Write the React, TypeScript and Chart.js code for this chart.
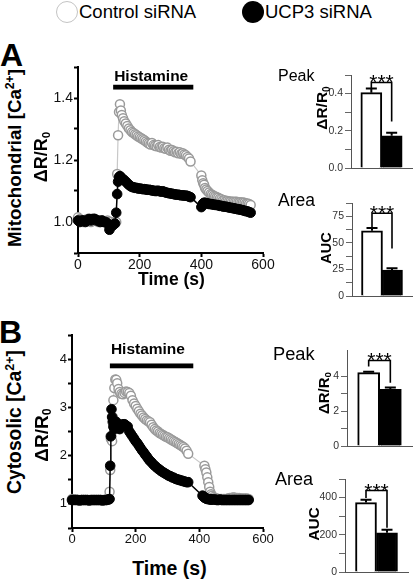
import React, { useEffect, useRef } from 'react';
import { Chart, registerables } from 'chart.js';

Chart.register(...registerables);

const FONT = '"Liberation Sans", Arial, Helvetica, sans-serif';

// ---------------- data ----------------
const groups = ['Control siRNA', 'UCP3 siRNA'];

// Panel A: mitochondrial Ca2+ (ΔR/R0) vs time (s)
const timeA = [0, 6, 12, 18, 24, 30, 36, 42, 48, 54, 60, 66, 72, 78, 84, 90, 96, 102, 108, 114, 120,
  124, 127, 130, 133, 136, 139, 142, 146, 150,
  155, 160, 165, 170, 175, 180, 185, 190, 195, 200, 205, 210, 215, 220, 225, 230, 235, 240, 245, 250,
  255, 260, 265, 270, 275, 280, 285, 290, 295, 300, 305, 310, 315, 320, 325, 330, 335, 340, 345, 350,
  355, 360, 365,
  400, 403, 406, 409, 412, 416, 420,
  425, 430, 435, 440, 445, 450, 455, 460, 465, 470, 475, 480, 485, 490, 495, 500, 505, 510, 515, 520,
  525, 530, 535, 540, 545, 550, 555, 560];
const controlA = [1.015, 1.01, 1.005, 1.0, 1.005, 1.01, 1.005, 1.0, 1.005, 1.01, 1.005, 1.0, 1.0, 1.005, 1.0, 1.0, 1.005, 1.0, 1.0, 0.995, 1.0,
  1.0, 1.155, 1.28, 1.355, 1.38, 1.36, 1.345, 1.335, 1.325,
  1.318, 1.31, 1.302, 1.296, 1.29, 1.287, 1.283, 1.28, 1.276, 1.273, 1.27, 1.267, 1.264, 1.26, 1.256, 1.253, 1.25, 1.255, 1.248, 1.246,
  1.244, 1.248, 1.242, 1.24, 1.243, 1.238, 1.236, 1.24, 1.233, 1.23, 1.232, 1.228, 1.225, 1.227, 1.222, 1.225, 1.22, 1.222, 1.218, 1.215,
  1.21, 1.205, 1.195,
  1.15, 1.135, 1.125, 1.12, 1.11, 1.105, 1.1,
  1.095, 1.09, 1.088, 1.085, 1.082, 1.08, 1.078, 1.075, 1.073, 1.07, 1.07, 1.068, 1.068, 1.066, 1.066, 1.065, 1.065, 1.065, 1.065, 1.064,
  1.064, 1.063, 1.063, 1.062, 1.06, 1.06, 1.058, 1.055];
const ucp3A = [1.005, 1.0, 1.005, 1.005, 1.0, 1.005, 1.01, 1.005, 1.01, 1.01, 1.005, 1.005, 1.0, 1.005, 1.0, 1.0, 0.995, 0.975, 0.985, 0.99, 0.995,
  1.03, 1.09, 1.13, 1.145, 1.148, 1.145, 1.14, 1.138, 1.135,
  1.13, 1.125, 1.12, 1.116, 1.113, 1.112, 1.11, 1.11, 1.108, 1.108, 1.107, 1.106, 1.106, 1.105, 1.104, 1.104, 1.103, 1.102, 1.101, 1.1,
  1.1, 1.101, 1.099, 1.098, 1.099, 1.097, 1.095, 1.094, 1.093, 1.092, 1.091, 1.09, 1.089, 1.088, 1.088, 1.087, 1.086, 1.086, 1.085, 1.085,
  1.084, 1.082, 1.08,
  1.048, 1.055, 1.06, 1.062, 1.062, 1.06, 1.06,
  1.058, 1.058, 1.057, 1.056, 1.055, 1.055, 1.054, 1.052, 1.052, 1.05, 1.05, 1.049, 1.048, 1.047, 1.046, 1.045, 1.044, 1.043, 1.042, 1.041,
  1.04, 1.039, 1.038, 1.036, 1.035, 1.034, 1.032, 1.03];
const histamineA = [114, 374];
const histamineLevelA = 1.435;

// Panel B: cytosolic Ca2+ (ΔR/R0) vs time (s)
const timeB = [0, 6, 12, 18, 24, 30, 36, 42, 48, 54, 60, 66, 72, 78, 84, 90, 96, 102, 108, 114,
  118, 120, 122, 124, 126, 128, 130, 133, 136, 139, 142, 146, 150, 155, 160, 165, 170,
  175, 180, 185, 190, 195, 200, 205, 210, 215, 220, 225, 230, 235, 240, 245, 250, 255, 260, 265, 270,
  275, 280, 285, 290, 295, 300, 305, 310, 315, 320, 325, 330, 335, 340, 345, 350, 355, 360, 365,
  410, 413, 416, 419, 422, 425, 428, 431, 434, 437, 440, 445, 450,
  455, 460, 465, 470, 475, 480, 485, 490, 495, 500, 505, 510, 515, 520, 525, 530, 535, 540, 545, 550, 555];
const controlB = [1.1, 1.09, 1.09, 1.08, 1.08, 1.08, 1.08, 1.08, 1.08, 1.08, 1.08, 1.08, 1.08, 1.08, 1.08, 1.08, 1.08, 1.08, 1.08, 1.09,
  1.25, 1.7, 2.35, 2.4, 2.3, 2.8, 3.15, 3.4, 3.58, 3.57, 3.5, 3.38, 3.32, 3.28, 3.27, 3.3, 3.33,
  3.32, 3.3, 3.24, 3.15, 3.08, 3.03, 2.97, 2.92, 2.87, 2.83, 2.79, 2.76, 2.73, 2.71, 2.69, 2.64, 2.59, 2.55, 2.52, 2.5,
  2.47, 2.45, 2.43, 2.41, 2.39, 2.38, 2.36, 2.34, 2.32, 2.3, 2.28, 2.26, 2.24, 2.22, 2.2, 2.18, 2.15, 2.1, 2.04,
  null, null, 1.79, 1.72, 1.65, 1.55, 1.45, 1.35, 1.25, 1.2, 1.17, 1.14, 1.12,
  1.11, 1.1, 1.1, 1.1, 1.1, 1.1, 1.1, 1.11, 1.12, 1.12, 1.13, 1.13, 1.12, 1.12, 1.12, 1.11, 1.11, 1.11, 1.11, 1.11, 1.1];
const ucp3B = [1.08, 1.08, 1.08, 1.08, 1.07, 1.08, 1.08, 1.08, 1.08, 1.07, 1.08, 1.08, 1.08, 1.08, 1.08, 1.08, 1.07, 1.08, 1.08, 1.09,
  1.1, 1.79, 2.4, 2.96, 2.8, 2.7, 2.6, 2.55, 2.6, 2.7, 2.62, 2.57, 2.55, 2.6, 2.65, 2.65, 2.62,
  2.6, 2.5, 2.45, 2.4, 2.35, 2.3, 2.26, 2.21, 2.16, 2.11, 2.07, 2.02, 1.98, 1.93, 1.89, 1.86, 1.82, 1.79, 1.76, 1.73,
  1.71, 1.68, 1.66, 1.64, 1.62, 1.6, 1.58, 1.57, 1.55, 1.54, 1.52, 1.51, 1.5, 1.49, 1.48, 1.47, 1.46, 1.45, 1.45,
  1.17, 1.15, 1.13, 1.12, 1.11, 1.1, 1.1, 1.1, 1.09, 1.09, 1.09, 1.09, 1.09,
  1.08, 1.08, 1.09, 1.08, 1.08, 1.08, 1.08, 1.08, 1.08, 1.08, 1.08, 1.08, 1.08, 1.08, 1.08, 1.08, 1.08, 1.08, 1.08, 1.08, 1.08];
const histamineB = [119, 381];
const histamineLevelB = 3.86;

// Bar summaries: [control, UCP3] mean and SEM; bracket = [level, left leg end, right leg end]
const peakA = [0.405, 0.173];
const peakASem = [0.022, 0.017];
const peakABracket = [0.46, 0.43, 0.25];
const areaA = [61.3, 24.5];
const areaASem = [2.7, 1.5];
const areaABracket = [77.8, 65, 44.6];
const peakB = [4.2, 3.25];
const peakBSem = [0.05, 0.1];
const peakBBracket = [4.9, 4.55, 3.62];
const areaB = [373, 211];
const areaBSem = [16, 16];
const areaBBracket = [438, 398, 238];

// Tick labels
const timeTicks = [0, 200, 400, 600];
const yTicksA = [1.0, 1.2, 1.4];
const yTicksB = [1, 2, 3, 4];
const peakATicks = [0, 0.2, 0.4];
const areaATicks = [0, 25, 50, 75];
const peakBTicks = [0, 2, 4];
const areaBTicks = [0, 200, 400];

// ---------------- helpers ----------------
type Geom = { left: number; top: number; width: number; height: number; yw: number; xh: number; pt: number; pr: number };

const gLineA: Geom = { left: 40, top: 55, width: 240, height: 222, yw: 38, xh: 24, pt: 12, pr: 17 };
const gLineB: Geom = { left: 34, top: 322, width: 246, height: 232, yw: 38, xh: 26, pt: 13, pr: 17 };
const gPeakA: Geom = { left: 325, top: 65, width: 89, height: 115, yw: 26, xh: 12, pt: 10, pr: 2 };
const gAreaA: Geom = { left: 325, top: 193, width: 89, height: 115, yw: 27, xh: 12, pt: 10, pr: 2 };
const gPeakB: Geom = { left: 320, top: 340, width: 94, height: 118, yw: 27, xh: 12, pt: 10, pr: 2 };
const gAreaB: Geom = { left: 318, top: 469, width: 96, height: 113, yw: 27, xh: 10, pt: 10, pr: 6 };

const stepFilter = (step: number) => (scale: any) => {
  scale.ticks = scale.ticks.filter((t: any) => Math.abs(t.value / step - Math.round(t.value / step)) < 1e-6);
};
const labelCb = (labels: number[], dec: number) => (v: any) => {
  const n = Number(v);
  return labels.some((l) => Math.abs(l - n) < 1e-6) ? n.toFixed(dec) : '';
};

const histPlugin = (range: number[], level: number, gap: number, size: number) => ({
  id: 'histamine',
  afterDatasetsDraw(chart: any) {
    const { ctx, scales } = chart;
    const x0 = scales.x.getPixelForValue(range[0]);
    const x1 = scales.x.getPixelForValue(range[1]);
    const yc = scales.y.getPixelForValue(level);
    ctx.save();
    ctx.fillStyle = '#000';
    ctx.fillRect(x0, yc - 2.4, x1 - x0, 4.8);
    ctx.font = `bold ${size}px ${FONT}`;
    ctx.textAlign = 'left';
    ctx.textBaseline = 'alphabetic';
    ctx.fillText('Histamine', x0 + 1, yc - 2.4 - gap);
    ctx.restore();
  },
});

const sigPlugin = (values: number[], sem: number[], bracket: number[]) => ({
  id: 'sig',
  afterDatasetsDraw(chart: any) {
    const { ctx, scales } = chart;
    const x = scales.x, y = scales.y;
    ctx.save();
    ctx.strokeStyle = '#000';
    ctx.lineWidth = 2;
    values.forEach((v, i) => {
      const px = x.getPixelForValue(i + 1);
      const top = y.getPixelForValue(v + sem[i]);
      const base = y.getPixelForValue(v);
      ctx.beginPath();
      ctx.moveTo(px, base);
      ctx.lineTo(px, top);
      ctx.moveTo(px - 5.5, top);
      ctx.lineTo(px + 5.5, top);
      ctx.stroke();
    });
    const x1 = x.getPixelForValue(1), x2 = x.getPixelForValue(2);
    const yb = y.getPixelForValue(bracket[0]);
    ctx.lineWidth = 1.6;
    ctx.beginPath();
    ctx.moveTo(x1, y.getPixelForValue(bracket[1]));
    ctx.lineTo(x1, yb);
    ctx.lineTo(x2, yb);
    ctx.lineTo(x2, y.getPixelForValue(bracket[2]));
    ctx.stroke();
    ctx.fillStyle = '#000';
    ctx.font = `21px ${FONT}`;
    ctx.textAlign = 'center';
    ctx.textBaseline = 'alphabetic';
    ctx.fillText('***', (x1 + x2) / 2, yb + 7);
    ctx.restore();
  },
});

function lineConfig(g: Geom, time: number[], ctrl: (number | null)[], ucp: (number | null)[], hist: number[], histLevel: number,
  gap: number, yMin: number, yMax: number, yStep: number, yLabels: number[], dec: number, tickSize: number): any {
  const pts = (vals: (number | null)[]) => time.map((t, i) => ({ x: t, y: vals[i] }));
  const grid = { drawOnChartArea: false, drawTicks: true, tickLength: 4, tickWidth: 2, tickColor: '#000' };
  const border = { display: true, color: '#000', width: 2 };
  return {
    type: 'line',
    data: {
      datasets: [
        { label: groups[1], data: pts(ucp), borderColor: '#000', borderWidth: 1.5, pointRadius: 4.8, pointBackgroundColor: '#000',
          pointBorderColor: '#000', pointBorderWidth: 1, tension: 0, spanGaps: true, clip: false, order: 0 },
        { label: groups[0], data: pts(ctrl), borderColor: '#c8c8c8', borderWidth: 1.2, pointRadius: 4.5, pointBackgroundColor: '#fff',
          pointBorderColor: '#9a9a9a', pointBorderWidth: 1.5, tension: 0, spanGaps: true, clip: false, order: 1 },
      ],
    },
    options: {
      responsive: false, animation: false, events: [],
      layout: { padding: { left: 0, top: g.pt, right: g.pr, bottom: 0 } },
      plugins: { legend: { display: false }, tooltip: { enabled: false } },
      scales: {
        x: {
          type: 'linear', min: 0, max: 600,
          afterFit: (s: any) => { s.height = g.xh; },
          afterBuildTicks: stepFilter(200),
          ticks: { stepSize: 200, color: '#111', font: { family: FONT, size: tickSize }, padding: 0, maxRotation: 0, autoSkip: false,
            callback: labelCb(timeTicks, 0) },
          grid, border,
        },
        y: {
          type: 'linear', min: yMin, max: yMax,
          afterFit: (s: any) => { s.width = g.yw; },
          afterBuildTicks: stepFilter(yStep),
          ticks: { stepSize: yStep, color: '#111', font: { family: FONT, size: tickSize }, padding: 1, autoSkip: false,
            callback: labelCb(yLabels, dec) },
          grid, border,
        },
      },
    },
    plugins: [histPlugin(hist, histLevel, gap, 15.5)],
  };
}

function barConfig(g: Geom, values: number[], sem: number[], bracket: number[], yMax: number, yStep: number,
  yLabels: number[], dec: number, thickness: number): any {
  return {
    type: 'bar',
    data: {
      datasets: [{
        label: 'mean', data: values.map((v, i) => ({ x: i + 1, y: v })),
        backgroundColor: ['#fff', '#000'], borderColor: '#000', borderWidth: 2, barThickness: thickness, borderSkipped: 'start',
      }],
    },
    options: {
      responsive: false, animation: false, events: [],
      layout: { padding: { left: 0, top: g.pt, right: g.pr, bottom: 0 } },
      plugins: { legend: { display: false }, tooltip: { enabled: false } },
      scales: {
        x: {
          type: 'linear', min: 0, max: 3, offset: false,
          afterFit: (s: any) => { s.height = g.xh; },
          ticks: { display: false },
          grid: { display: false },
          border: { display: true, color: '#555', width: 1 },
        },
        y: {
          type: 'linear', min: 0, max: yMax,
          afterFit: (s: any) => { s.width = g.yw; },
          afterBuildTicks: stepFilter(yStep),
          ticks: { stepSize: yStep, color: '#333', font: { family: FONT, size: 10.5 }, padding: 2, autoSkip: false,
            callback: labelCb(yLabels, dec) },
          grid: { drawOnChartArea: false, drawTicks: true, tickLength: 6, tickWidth: 1, tickColor: '#666' },
          border: { display: true, color: '#555', width: 1 },
        },
      },
    },
    plugins: [sigPlugin(values, sem, bracket)],
  };
}

// ---------------- text helpers ----------------
const Txt = ({ x, base, size, bold, center, children }: any) => (
  <div style={{
    position: 'absolute', left: x, top: base - 0.8465 * size, fontSize: size, lineHeight: `${size}px`,
    fontWeight: bold ? 'bold' : 'normal', whiteSpace: 'nowrap', color: '#000',
    transform: center ? 'translateX(-50%)' : undefined,
  }}>{children}</div>
);

const Rot = ({ cx, cy, size, children }: any) => (
  <div style={{
    position: 'absolute', left: cx, top: cy, fontSize: size, lineHeight: `${size}px`, fontWeight: 'bold',
    whiteSpace: 'nowrap', color: '#000', transform: 'translate(-50%, -50%) rotate(-90deg)',
  }}>{children}</div>
);

const Sup = ({ children }: any) => <span style={{ fontSize: '0.65em', lineHeight: 0, verticalAlign: '0.55em' }}>{children}</span>;
const Sub = ({ children }: any) => <span style={{ fontSize: '0.65em', lineHeight: 0, verticalAlign: '-0.25em' }}>{children}</span>;
const DR = () => <>ΔR/R<Sub>0</Sub></>;

export default function App() {
  const r0 = useRef<HTMLCanvasElement>(null);
  const r1 = useRef<HTMLCanvasElement>(null);
  const r2 = useRef<HTMLCanvasElement>(null);
  const r3 = useRef<HTMLCanvasElement>(null);
  const r4 = useRef<HTMLCanvasElement>(null);
  const r5 = useRef<HTMLCanvasElement>(null);
  const refs = [r0, r1, r2, r3, r4, r5];
  const geoms = [gLineA, gLineB, gPeakA, gAreaA, gPeakB, gAreaB];

  useEffect(() => {
    document.body.style.margin = '0';
    Chart.defaults.font.family = FONT;
    const configs = [
      lineConfig(gLineA, timeA, controlA, ucp3A, histamineA, histamineLevelA, 3.3, 0.9, 1.5, 0.1, yTicksA, 1, 14),
      lineConfig(gLineB, timeB, controlB, ucp3B, histamineB, histamineLevelB, 9.3, 0.5, 4.5, 0.5, yTicksB, 0, 13),
      barConfig(gPeakA, peakA, peakASem, peakABracket, 0.5, 0.1, peakATicks, 1, 21),
      barConfig(gAreaA, areaA, areaASem, areaABracket, 87.5, 12.5, areaATicks, 0, 21),
      barConfig(gPeakB, peakB, peakBSem, peakBBracket, 5.5, 1, peakBTicks, 0, 22),
      barConfig(gAreaB, areaB, areaBSem, areaBBracket, 500, 100, areaBTicks, 0, 21),
    ];
    const charts = configs.map((c, i) => new Chart(refs[i].current as HTMLCanvasElement, c));
    return () => charts.forEach((c) => c.destroy());
  }, []);

  return (
    <div style={{ position: 'absolute', left: 0, top: 0, width: 414, height: 582, background: '#fff', overflow: 'hidden', fontFamily: FONT }}>
      {geoms.map((g, i) => (
        <canvas key={i} ref={refs[i]} width={g.width} height={g.height}
          style={{ position: 'absolute', left: g.left, top: g.top, width: g.width, height: g.height }} />
      ))}

      {/* legend */}
      <div style={{ position: 'absolute', left: 56, top: 1, width: 22, height: 22, borderRadius: '50%', border: '1.6px solid #c4c4c4', boxSizing: 'border-box' }} />
      <Txt x={79} base={19} size={18.5}>{groups[0]}</Txt>
      <div style={{ position: 'absolute', left: 242, top: 1, width: 22, height: 22, borderRadius: '50%', background: '#000' }} />
      <Txt x={265} base={19} size={18.5}>{groups[1]}</Txt>

      {/* panel letters */}
      <Txt x={0} base={66.5} size={32} bold>A</Txt>
      <Txt x={-1} base={343} size={32} bold>B</Txt>

      {/* line chart titles */}
      <Rot cx={15} cy={157.5} size={18.7}>Mitochondrial [Ca<Sup>2+</Sup>]</Rot>
      <Rot cx={41} cy={157} size={18}><DR /></Rot>
      <Txt x={171.5} base={285.5} size={17.5} bold center>Time (s)</Txt>

      <Rot cx={15} cy={422} size={19.3}>Cytosolic [Ca<Sup>2+</Sup>]</Rot>
      <Rot cx={41} cy={434.5} size={19}><DR /></Rot>
      <Txt x={169.5} base={576} size={19.5} bold center>Time (s)</Txt>

      {/* bar chart titles */}
      <Txt x={278} base={81.5} size={16}>Peak</Txt>
      <Rot cx={322} cy={108} size={15.5}><DR /></Rot>
      <Txt x={278} base={206.5} size={17.5}>Area</Txt>
      <Rot cx={326} cy={248} size={14.5}>AUC</Rot>

      <Txt x={273} base={360} size={18.3}>Peak</Txt>
      <Rot cx={323} cy={393} size={15}><DR /></Rot>
      <Txt x={275} base={485} size={18}>Area</Txt>
      <Rot cx={313.5} cy={523.5} size={15.5}>AUC</Rot>
    </div>
  );
}
